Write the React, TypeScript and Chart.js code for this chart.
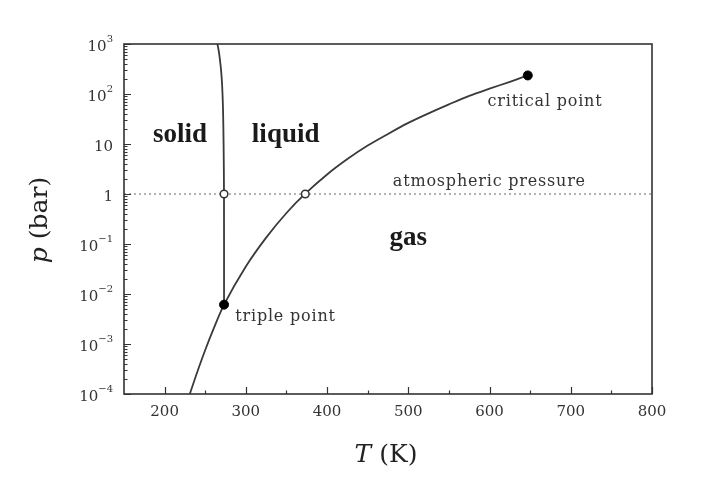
import React, { useEffect, useRef } from 'react';
import { Chart, registerables } from 'chart.js';

Chart.register(...registerables);

// Melting curve (solid / liquid boundary)
const meltT = [273.16, 273.1, 272.6, 271.9, 270.8, 269.5, 268.0, 266.8, 265];
const meltP = [0.00612, 1, 10, 50, 150, 300, 500, 700, 1000];

// Sublimation + vaporization curve (solid/gas, liquid/gas)
const vapT = [231, 240, 250, 260, 273.16, 300, 325, 350, 373.15, 400, 425, 450, 475, 500, 525, 550, 575, 600, 625, 647.1];
const vapP = [1.0e-4, 2.7e-4, 7.6e-4, 1.96e-3, 6.12e-3, 0.0354, 0.134, 0.417, 1.013, 2.46, 5.0, 9.3, 15.9, 26.4, 41, 62, 92, 128, 175, 235];

// Atmospheric pressure line
const atmT = [150, 800];
const atmP = [1, 1];

// Open markers: melting / boiling at 1 bar
const openT = [273.16, 373.15];
const openP = [1, 1];

// Filled markers: triple point, critical point
const filledT = [273.16, 647.1];
const filledP = [0.00612, 235];

// Axis ticks
const xMajorTicks = [200, 300, 400, 500, 600, 700, 800];
const xMinorTicks = [250, 350, 450, 550, 650, 750];
const yDecades = [1e-4, 1e-3, 1e-2, 1e-1, 1, 10, 100, 1000];
const yTickBase = ['10', '10', '10', '10', '1', '10', '10', '10'];
const yTickExp = ['−4', '−3', '−2', '−1', '', '', '2', '3'];

// Region and annotation texts
const regionNames = ['solid', 'liquid', 'gas'];
const noteNames = ['critical point', 'atmospheric pressure', 'triple point'];

// Label anchors (data coordinates)
const regionAnchorT = [219, 349, 500];
const regionAnchorP = [15, 15, 0.13];
const noteAnchorT = [597.5, 481, 287];
const noteAnchorP = [69, 1.74, 0.0035];

const toXY = (xs: number[], ys: number[]) => xs.map((x, i) => ({ x, y: ys[i] }));

const SERIF = '"DejaVu Serif", serif';

const decorPlugin = {
  id: 'decor',
  afterDraw(chart: any) {
    const ctx = chart.ctx as CanvasRenderingContext2D;
    const { left, right, top, bottom } = chart.chartArea;
    const xs = chart.scales.x;
    const ys = chart.scales.y;
    ctx.save();

    // Frame
    ctx.strokeStyle = '#333';
    ctx.lineWidth = 1.6;
    ctx.strokeRect(left, top, right - left, bottom - top);

    // X ticks (inward)
    ctx.lineWidth = 1.2;
    ctx.beginPath();
    xMajorTicks.forEach((v) => {
      const px = Math.round(xs.getPixelForValue(v)) + 0.5;
      ctx.moveTo(px, bottom);
      ctx.lineTo(px, bottom - 7);
    });
    xMinorTicks.forEach((v) => {
      const px = Math.round(xs.getPixelForValue(v)) + 0.5;
      ctx.moveTo(px, bottom);
      ctx.lineTo(px, bottom - 3.5);
    });
    ctx.stroke();

    // Y ticks (inward), major and minor
    ctx.beginPath();
    yDecades.forEach((d, i) => {
      const py = Math.round(ys.getPixelForValue(d)) + 0.5;
      ctx.moveTo(left, py);
      ctx.lineTo(left + 7, py);
      if (i < yDecades.length - 1) {
        for (let m = 2; m <= 9; m++) {
          const pm = Math.round(ys.getPixelForValue(d * m)) + 0.5;
          ctx.moveTo(left, pm);
          ctx.lineTo(left + 3.5, pm);
        }
      }
    });
    ctx.stroke();

    // X tick labels
    ctx.fillStyle = '#333';
    ctx.font = `15px ${SERIF}`;
    ctx.textAlign = 'center';
    ctx.textBaseline = 'middle';
    xMajorTicks.forEach((v) => {
      ctx.fillText(String(v), xs.getPixelForValue(v), bottom + 18);
    });

    // Y tick labels with superscripts
    ctx.textBaseline = 'middle';
    yDecades.forEach((d, i) => {
      const py = ys.getPixelForValue(d) + 3;
      const xr = left - 11;
      ctx.font = `10px ${SERIF}`;
      const ew = yTickExp[i] ? ctx.measureText(yTickExp[i]).width : 0;
      ctx.textAlign = 'left';
      if (yTickExp[i]) ctx.fillText(yTickExp[i], xr - ew, py - 8);
      ctx.font = `15px ${SERIF}`;
      ctx.textAlign = 'right';
      ctx.fillText(yTickBase[i], xr - ew, py);
    });

    // Axis titles
    ctx.fillStyle = '#222';
    const cx = (left + right) / 2 - 2;
    const tyX = 455;
    const TF = 25;
    ctx.textBaseline = 'middle';
    ctx.font = `italic ${TF}px ${SERIF}`;
    const tW = ctx.measureText('T').width;
    ctx.font = `${TF}px ${SERIF}`;
    const kW = ctx.measureText(' (K)').width;
    let sx = cx - (tW + kW) / 2;
    ctx.textAlign = 'left';
    ctx.font = `italic ${TF}px ${SERIF}`;
    ctx.fillText('T', sx, tyX);
    ctx.font = `${TF}px ${SERIF}`;
    ctx.fillText(' (K)', sx + tW, tyX);

    ctx.save();
    ctx.translate(40, (top + bottom) / 2 + 1);
    ctx.rotate(-Math.PI / 2);
    ctx.font = `italic ${TF}px ${SERIF}`;
    const pW = ctx.measureText('p').width;
    ctx.font = `${TF}px ${SERIF}`;
    const bW = ctx.measureText(' (bar)').width;
    sx = -(pW + bW) / 2;
    ctx.font = `italic ${TF}px ${SERIF}`;
    ctx.fillText('p', sx, 0);
    ctx.font = `${TF}px ${SERIF}`;
    ctx.fillText(' (bar)', sx + pW, 0);
    ctx.restore();

    // Region labels
    ctx.fillStyle = '#1a1a1a';
    ctx.font = `bold 27px "Liberation Serif", serif`;
    ctx.textAlign = 'center';
    ctx.textBaseline = 'middle';
    regionNames.forEach((n, i) => {
      ctx.fillText(n, xs.getPixelForValue(regionAnchorT[i]), ys.getPixelForValue(regionAnchorP[i]));
    });

    // Annotations
    ctx.fillStyle = '#333';
    ctx.font = `16px ${SERIF}`;
    (ctx as any).letterSpacing = '0.8px';
    ctx.textAlign = 'left';
    noteNames.forEach((n, i) => {
      ctx.fillText(n, xs.getPixelForValue(noteAnchorT[i]), ys.getPixelForValue(noteAnchorP[i]));
    });
    (ctx as any).letterSpacing = '0px';

    ctx.restore();
  },
};

export default function App() {
  const ref = useRef<HTMLCanvasElement | null>(null);

  useEffect(() => {
    if (!ref.current) return;
    const chart = new Chart(ref.current, {
      type: 'scatter',
      data: {
        datasets: [
          {
            label: 'critical/triple',
            data: toXY(filledT, filledP),
            showLine: false,
            pointRadius: 4.5,
            pointBackgroundColor: '#000',
            pointBorderColor: '#000',
            pointBorderWidth: 1,
          },
          {
            label: 'at 1 bar',
            data: toXY(openT, openP),
            showLine: false,
            pointRadius: 3.8,
            pointBackgroundColor: '#fff',
            pointBorderColor: '#333',
            pointBorderWidth: 1.5,
          },
          {
            label: 'melting',
            data: toXY(meltT, meltP),
            showLine: true,
            borderColor: '#3a3a3a',
            borderWidth: 1.8,
            pointRadius: 0,
            tension: 0.3,
          },
          {
            label: 'vapor',
            data: toXY(vapT, vapP),
            showLine: true,
            borderColor: '#3a3a3a',
            borderWidth: 1.8,
            pointRadius: 0,
            tension: 0.3,
          },
          {
            label: 'atmospheric',
            data: toXY(atmT, atmP),
            showLine: true,
            borderColor: '#9a9a9a',
            borderWidth: 1.5,
            borderDash: [2, 3],
            pointRadius: 0,
          },
        ],
      },
      options: {
        responsive: false,
        animation: false,
        devicePixelRatio: 1,
        layout: { padding: { left: 124, right: 76, top: 44, bottom: 91 } },
        plugins: {
          legend: { display: false },
          tooltip: { enabled: false },
        },
        events: [],
        scales: {
          x: { type: 'linear', min: 150, max: 800, display: false },
          y: { type: 'logarithmic', min: 1e-4, max: 1000, display: false },
        },
      },
      plugins: [decorPlugin],
    });
    return () => chart.destroy();
  }, []);

  return (
    <div style={{ position: 'fixed', left: 0, top: 0, width: 728, height: 485, background: '#fff' }}>
      <canvas ref={ref} width={728} height={485} style={{ display: 'block' }} />
    </div>
  );
}
